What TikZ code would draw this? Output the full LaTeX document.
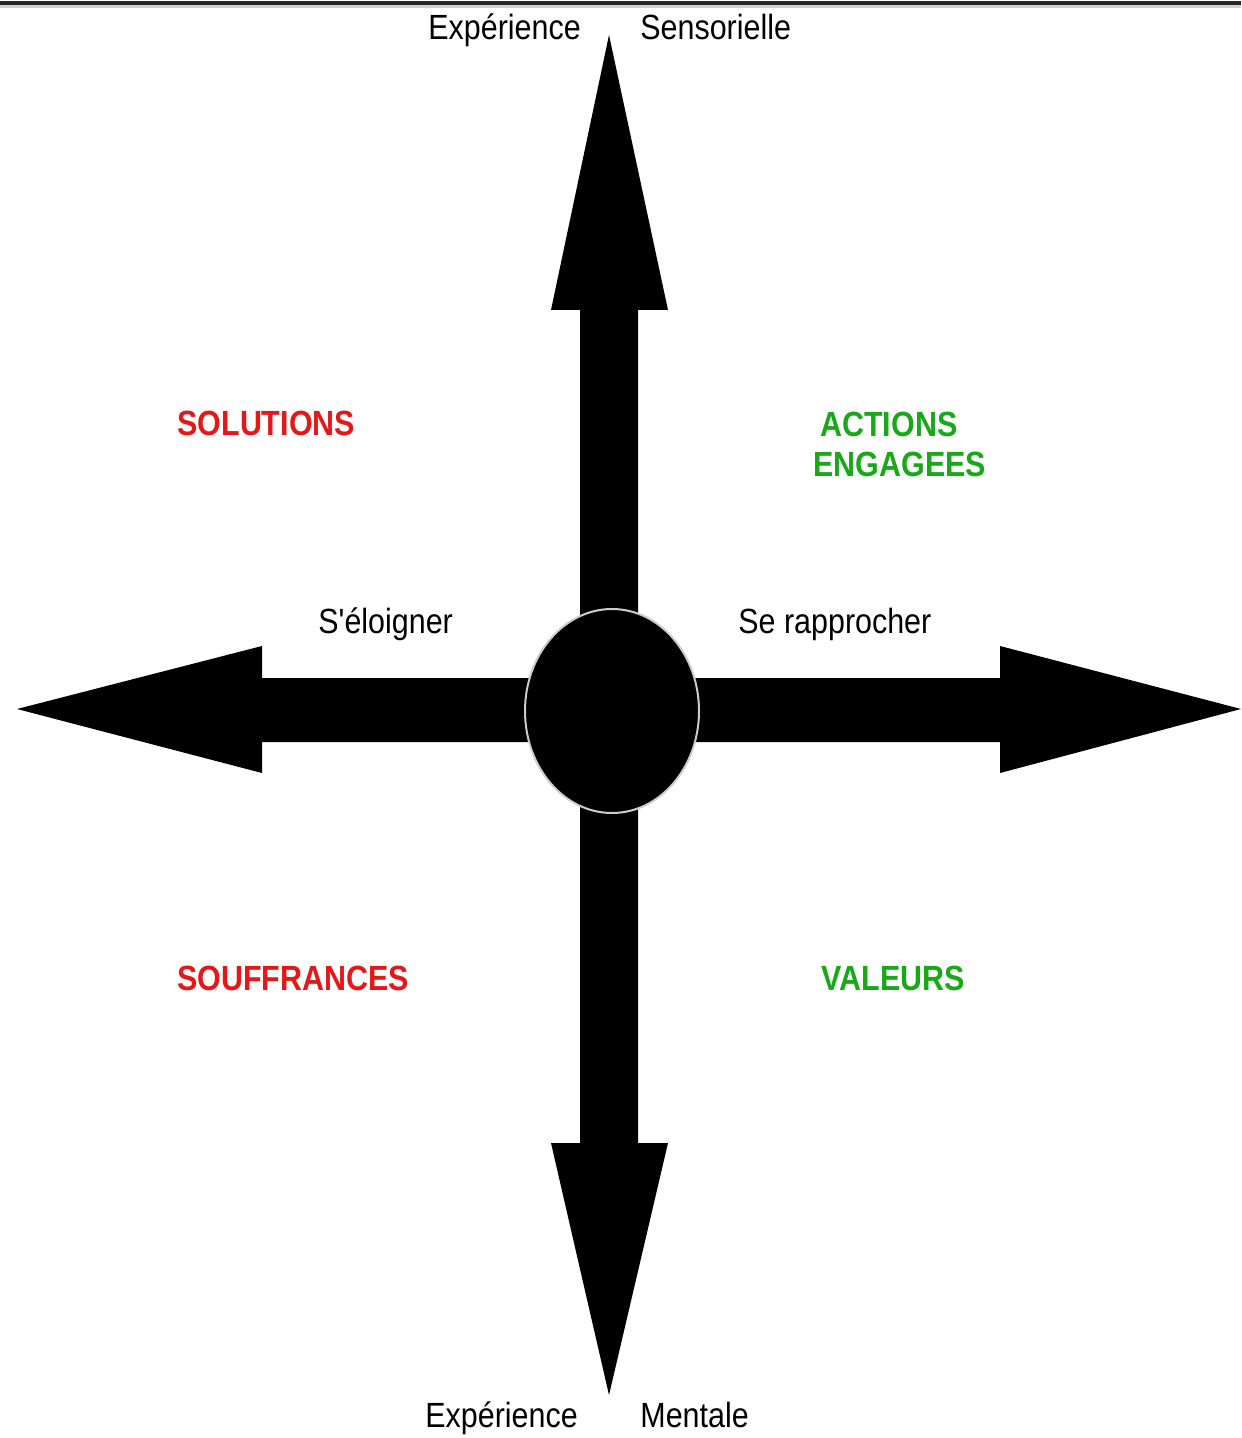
\documentclass[tikz,border=0pt]{standalone}
\usepackage{fontspec}
\setmainfont{Liberation Sans}[Ligatures=TeXOff]
\definecolor{redT}{RGB}{228,24,24}
\definecolor{greenT}{RGB}{24,168,24}
\newcommand\narrowtxt[1]{\scalebox{0.87}[1]{#1}}
\begin{document}
\begin{tikzpicture}[x=0.5pt,y=-0.5pt,
  lbl/.style={anchor=base west,inner sep=0pt,font=\fontsize{17.5pt}{21pt}\selectfont},
  redlbl/.style={lbl,text=redT,font=\fontsize{17.5pt}{21pt}\selectfont\bfseries},
  greenlbl/.style={lbl,text=greenT,font=\fontsize{17.5pt}{21pt}\selectfont\bfseries},
  shapefill/.style={fill=black,draw=none}]
\useasboundingbox (0,0) rectangle (1241,1438);
\fill[white] (0,0) rectangle (1241,1438);
% top border
\fill[black!85] (0,0.8) rectangle (1241,4.6);
\fill[black!18] (0,4.6) rectangle (1241,8);
% vertical double arrow
\path[shapefill] (609,35) -- (668,310) -- (638,310) -- (638,1143) -- (668,1143)
  -- (609,1395) -- (551,1143) -- (580,1143) -- (580,310) -- (551,310) -- cycle;
% horizontal double arrow
\path[shapefill] (17,709) -- (262,646) -- (262,678) -- (1000,678) -- (1000,646)
  -- (1241,709) -- (1000,773) -- (1000,742) -- (262,742) -- (262,773) -- cycle;
% central disc
\fill[black,draw=black!20,line width=1] (612,711) ellipse [x radius=87, y radius=102];
% labels
\node[lbl] (expS) at (428,40) {\narrowtxt{Expérience}};
\node[lbl] (sens) at (640,40) {\narrowtxt{Sensorielle}};
\node[redlbl] (sol) at (177,436) {\narrowtxt{SOLUTIONS}};
\node[greenlbl] (act) at (820,437) {\narrowtxt{ACTIONS}};
\node[greenlbl] (eng) at (813,476) {\narrowtxt{ENGAGEES}};
\node[lbl] (elo) at (318,633) {\narrowtxt{S'éloigner}};
\node[lbl] (rap) at (738,633) {\narrowtxt{Se rapprocher}};
\node[redlbl] (souf) at (177,990) {\narrowtxt{SOUFFRANCES}};
\node[greenlbl] (val) at (821,990) {\narrowtxt{VALEURS}};
\node[lbl] (expM) at (425,1427) {\narrowtxt{Expérience}};
\node[lbl] (ment) at (640,1427) {\narrowtxt{Mentale}};
\end{tikzpicture}
\end{document}
